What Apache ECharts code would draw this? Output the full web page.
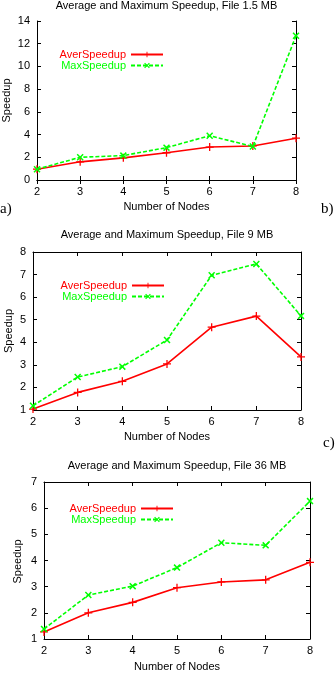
<!DOCTYPE html>
<html>
<head>
<meta charset="utf-8">
<script src="https://cdn.jsdelivr.net/npm/echarts@6/dist/echarts.min.js"></script>
<style>
  html, body { margin: 0; padding: 0; background: #fff; }
  #chart { width: 336px; height: 673px; }
</style>
</head>
<body>
<div id="chart"></div>
<script>
// Number of nodes on the x axis (shared by all three panels)
const nodes = [2, 3, 4, 5, 6, 7, 8];

// Panel a): file 1.5 MB
const aver15 = [0.95, 1.6, 1.95, 2.4, 2.9, 3.0, 3.68];
const max15  = [0.95, 2.0, 2.15, 2.85, 3.9, 2.95, 12.7];

// Panel b): file 9 MB
const aver9 = [1.04, 1.78, 2.27, 3.04, 4.67, 5.16, 3.35];
const max9  = [1.19, 2.46, 2.92, 4.1, 6.97, 7.47, 5.17];

// Panel c): file 36 MB
const aver36 = [1.27, 2.0, 2.4, 2.96, 3.18, 3.26, 3.93];
const max36  = [1.38, 2.68, 3.02, 3.73, 4.68, 4.58, 6.27];

const titles = [
  'Average and Maximum Speedup, File 1.5 MB',
  'Average and Maximum Speedup, File 9 MB',
  'Average and Maximum Speedup, File 36 MB'
];
const yRanges = [[0, 14, 2], [1, 8, 1], [1, 7, 1]];

const FONT = '"Liberation Sans", Arial, Helvetica, sans-serif';
const SERIF = '"Liberation Serif", "Times New Roman", serif';
const RED = '#ff0000';
const GREEN = '#00ff00';

// gnuplot-like point types: thin plus and bold cross
const PLUS = 'path://M-0.16,-1 L0.16,-1 L0.16,-0.16 L1,-0.16 L1,0.16 L0.16,0.16 L0.16,1 L-0.16,1 L-0.16,0.16 L-1,0.16 L-1,-0.16 L-0.16,-0.16 Z';
const CROSS = 'path://M0.813,-1.167 L1.167,-0.813 L0.354,0 L1.167,0.813 L0.813,1.167 L0,0.354 L-0.813,1.167 L-1.167,0.813 L-0.354,0 L-1.167,-0.813 L-0.813,-1.167 L0,-0.354 Z';

const grids = [
  { left: 37, right: 40, top: 21, height: 159 },
  { left: 33, right: 35, top: 252, height: 158 },
  { left: 44, right: 26, top: 482, height: 159 }
];
const yNameX = [7, 9, 18];
const xNameGap = [21, 21, 22];
const titleTops = [0, 229, 460];
const legendRows = [[49, 60, 172], [280, 291, 171], [503, 514, 162]];

const seriesData = [[aver15, max15], [aver9, max9], [aver36, max36]];

const axisLineStyle = { show: true, lineStyle: { color: '#000', width: 1 } };
const tickStyle = { show: true, inside: true, length: 4, lineStyle: { color: '#000', width: 1 } };
const labelStyle = { color: '#000', fontSize: 11, fontFamily: FONT };

const xAxis = [], yAxis = [], series = [], title = [], legend = [], graphic = [];

grids.forEach((g, i) => {
  const [ymin, ymax, yint] = yRanges[i];
  // bottom axis with labels, top axis mirrors the ticks
  xAxis.push({
    type: 'value', gridIndex: i, min: 2, max: 8, interval: 1, position: 'bottom',
    axisLine: axisLineStyle, axisTick: tickStyle, splitLine: { show: false },
    axisLabel: Object.assign({ margin: 6 }, labelStyle),
    name: 'Number of Nodes', nameLocation: 'middle', nameGap: xNameGap[i],
    nameTextStyle: labelStyle
  });
  xAxis.push({
    type: 'value', gridIndex: i, min: 2, max: 8, interval: 1, position: 'top',
    axisLine: axisLineStyle, axisTick: tickStyle, splitLine: { show: false },
    axisLabel: { show: false }
  });
  // left axis with labels, right axis mirrors the ticks
  yAxis.push({
    type: 'value', gridIndex: i, min: ymin, max: ymax, interval: yint, position: 'left',
    axisLine: axisLineStyle, axisTick: tickStyle, splitLine: { show: false },
    axisLabel: Object.assign({ margin: 7 }, labelStyle)
  });
  yAxis.push({
    type: 'value', gridIndex: i, min: ymin, max: ymax, interval: yint, position: 'right',
    axisLine: axisLineStyle, axisTick: tickStyle, splitLine: { show: false },
    axisLabel: { show: false }
  });

  // rotated y-axis title
  graphic.push({
    type: 'text', x: yNameX[i], y: g.top + g.height / 2, rotation: Math.PI / 2,
    style: { text: 'Speedup', align: 'center', verticalAlign: 'middle',
             fontSize: 11, fontFamily: FONT, fill: '#000' }
  });

  const [aver, max] = seriesData[i];
  series.push({
    name: 'AverSpeedup', type: 'line', xAxisIndex: 2 * i, yAxisIndex: 2 * i,
    data: nodes.map((n, k) => [n, aver[k]]),
    symbol: PLUS, symbolSize: 8, showAllSymbol: true,
    lineStyle: { color: RED, width: 1.6 }, itemStyle: { color: RED },
    animation: false, z: 3
  });
  series.push({
    name: 'MaxSpeedup', type: 'line', xAxisIndex: 2 * i, yAxisIndex: 2 * i,
    data: nodes.map((n, k) => [n, max[k]]),
    symbol: CROSS, symbolSize: 7, showAllSymbol: true,
    lineStyle: { color: GREEN, width: 1.6, type: [4, 2] }, itemStyle: { color: GREEN },
    animation: false, z: 4
  });

  // title centred over the plot area
  title.push({
    text: titles[i], top: titleTops[i], padding: 0,
    left: g.left + (336 - g.right - g.left) / 2, textAlign: 'center',
    textStyle: { color: '#000', fontSize: 11, fontWeight: 'normal', fontFamily: FONT }
  });

  // key: one legend per entry so the samples line up on the right
  const [rowA, rowM, rightPx] = legendRows[i];
  [['AverSpeedup', RED, rowA], ['MaxSpeedup', GREEN, rowM]].forEach(([nm, col, top]) => {
    legend.push({
      data: [{ name: nm, textStyle: { color: col } }],
      orient: 'vertical', align: 'right', right: rightPx, top: top,
      padding: 0, itemWidth: 32, itemHeight: 7, itemGap: 0,
      selectedMode: false,
      textStyle: { fontSize: 11, fontFamily: FONT }
    });
  });
});

// panel letters
graphic.push(
  { type: 'text', left: 0, top: 202, style: { text: 'a)', fontSize: 15, fontFamily: SERIF, fill: '#000' } },
  { type: 'text', left: 321, top: 202, style: { text: 'b)', fontSize: 15, fontFamily: SERIF, fill: '#000' } },
  { type: 'text', left: 323, top: 436, style: { text: 'c)', fontSize: 15, fontFamily: SERIF, fill: '#000' } }
);

const chart = echarts.init(document.getElementById('chart'), null, { renderer: 'canvas' });
chart.setOption({
  backgroundColor: '#fff',
  animation: false,
  title: title,
  legend: legend,
  grid: grids,
  xAxis: xAxis,
  yAxis: yAxis,
  series: series,
  graphic: graphic
});
</script>
</body>
</html>
